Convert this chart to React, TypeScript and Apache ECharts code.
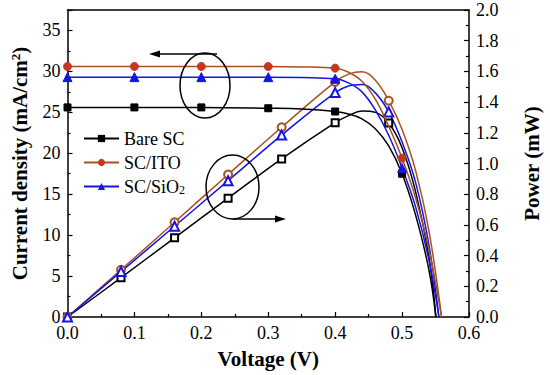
import React, { useEffect, useRef } from "react";
import * as echarts from "echarts";

// ---- Data ----
const SERIES_NAMES = ["Bare SC", "SC/ITO", "SC/SiO2"];

// Current density J (mA/cm^2) vs voltage
const J_V_BARE = [0, 0.1, 0.2, 0.3, 0.35, 0.4, 0.42, 0.44, 0.46, 0.48, 0.5, 0.52, 0.54, 0.5505];
const J_BARE = [25.6, 25.6, 25.6, 25.5, 25.4, 25.1, 24.8, 24.2, 23.0, 20.9, 17.5, 12.5, 5.8, 0];
const J_V_ITO = [0, 0.1, 0.2, 0.3, 0.35, 0.4, 0.42, 0.44, 0.46, 0.48, 0.5, 0.52, 0.54, 0.559];
const J_ITO = [30.6, 30.6, 30.6, 30.6, 30.55, 30.4, 29.9, 28.8, 26.6, 23.3, 19.4, 14.6, 8.3, 0];
const J_V_SIO2 = [0, 0.1, 0.2, 0.3, 0.35, 0.4, 0.42, 0.44, 0.46, 0.48, 0.5, 0.52, 0.54, 0.555];
const J_SIO2 = [29.3, 29.3, 29.3, 29.3, 29.25, 29.1, 28.6, 27.5, 25.3, 22.2, 18.2, 13.5, 7.0, 0];

// Power P (mW) vs voltage
const P_V_BARE = [0, 0.08, 0.16, 0.24, 0.32, 0.4, 0.42, 0.44, 0.46, 0.48, 0.5, 0.52, 0.54, 0.5505];
const P_BARE = [0, 0.256, 0.516, 0.774, 1.03, 1.266, 1.312, 1.342, 1.333, 1.264, 1.103, 0.82, 0.395, 0];
const P_V_ITO = [0, 0.08, 0.16, 0.24, 0.32, 0.4, 0.42, 0.44, 0.46, 0.48, 0.5, 0.52, 0.54, 0.559];
const P_ITO = [0, 0.308, 0.617, 0.928, 1.236, 1.532, 1.582, 1.597, 1.542, 1.409, 1.222, 0.957, 0.565, 0];
const P_V_SIO2 = [0, 0.08, 0.16, 0.24, 0.32, 0.4, 0.42, 0.44, 0.46, 0.48, 0.5, 0.52, 0.54, 0.555];
const P_SIO2 = [0, 0.296, 0.591, 0.888, 1.185, 1.462, 1.505, 1.515, 1.46, 1.336, 1.14, 0.88, 0.473, 0];

// Voltages where markers are drawn
const J_MARKER_V = [0, 0.1, 0.2, 0.3, 0.4, 0.5];
const P_MARKER_V = [0, 0.08, 0.16, 0.24, 0.32, 0.4, 0.48];

const X_TICKS = [0, 0.1, 0.2, 0.3, 0.4, 0.5, 0.6];

const FONT = "Liberation Serif";
const COLORS = ["#000000", "#a9501f", "#1414e8"];
const MARKER_FILL = ["#000000", "#c4391c", "#1414e8"];
const J_SYMBOLS = ["rect", "circle", "triangle"];
const P_SYMBOLS = ["emptyRect", "emptyCircle", "emptyTriangle"];
const SYMBOL_SIZES = [7, 8, 9];

function buildData(vs: number[], ys: number[], markers: number[]) {
  return vs.map((v, i) => {
    const isMarker = markers.some((m) => Math.abs(m - v) < 1e-6);
    return isMarker ? { value: [v, ys[i]] } : { value: [v, ys[i]], symbol: "none" };
  });
}

export default function App() {
  const ref = useRef<HTMLDivElement>(null);

  useEffect(() => {
    document.body.style.margin = "0";
    if (!ref.current) return;
    const chart = echarts.init(ref.current, undefined, { renderer: "svg" });

    const jSets = [
      [J_V_BARE, J_BARE],
      [J_V_ITO, J_ITO],
      [J_V_SIO2, J_SIO2],
    ];
    const pSets = [
      [P_V_BARE, P_BARE],
      [P_V_ITO, P_ITO],
      [P_V_SIO2, P_SIO2],
    ];

    const series: any[] = [];
    jSets.forEach(([vs, ys], i) => {
      series.push({
        name: SERIES_NAMES[i],
        type: "line",
        xAxisIndex: 0,
        yAxisIndex: 0,
        smooth: 0.4,
        data: buildData(vs, ys, J_MARKER_V),
        symbol: J_SYMBOLS[i],
        symbolSize: SYMBOL_SIZES[i],
        showAllSymbol: true,
        lineStyle: { color: COLORS[i], width: 1.5 },
        itemStyle: { color: MARKER_FILL[i], borderColor: MARKER_FILL[i] },
        z: 3,
      });
    });
    pSets.forEach(([vs, ys], i) => {
      series.push({
        name: SERIES_NAMES[i] + " power",
        type: "line",
        xAxisIndex: 0,
        yAxisIndex: 1,
        smooth: 0.4,
        data: buildData(vs, ys, P_MARKER_V),
        symbol: P_SYMBOLS[i],
        symbolSize: SYMBOL_SIZES[i],
        showAllSymbol: true,
        lineStyle: { color: COLORS[i], width: 1.5 },
        itemStyle: { color: COLORS[i] },
        z: 2,
      });
    });

    const axisLineStyle = { color: "#000", width: 1.5 };
    const labelStyle = { color: "#000", fontSize: 18, fontFamily: FONT };
    const nameStyle = { color: "#000", fontSize: 21, fontFamily: FONT, fontWeight: "bold" as const };

    chart.setOption({
      animation: false,
      backgroundColor: "#fff",
      textStyle: { fontFamily: FONT },
      grid: { left: 67.5, right: 68.5, top: 10, bottom: 58, containLabel: false },
      legend: {
        data: SERIES_NAMES,
        orient: "vertical",
        left: 78,
        top: 124,
        itemWidth: 35,
        itemHeight: 9,
        itemGap: 5,
        textStyle: {
          color: "#000",
          fontSize: 18,
          fontFamily: FONT,
          lineHeight: 19,
          rich: {
            sub: { fontSize: 12, fontFamily: FONT, lineHeight: 4, verticalAlign: "bottom" },
          },
        },
        formatter: (name: string) => (name === "SC/SiO2" ? "SC/SiO{sub|2}" : name),
      },
      xAxis: [
        {
          type: "value",
          min: X_TICKS[0],
          max: X_TICKS[X_TICKS.length - 1],
          interval: 0.1,
          name: "Voltage (V)",
          nameLocation: "middle",
          nameGap: 31,
          nameTextStyle: nameStyle,
          axisLine: { show: true, onZero: false, lineStyle: axisLineStyle },
          axisTick: { show: true, inside: true, length: 5, lineStyle: { color: "#000", width: 1.2 } },
          minorTick: { show: true, splitNumber: 2, length: 3, lineStyle: { color: "#000", width: 1.2 } },
          axisLabel: { ...labelStyle, margin: 7, formatter: (v: number) => v.toFixed(1) },
          splitLine: { show: false },
        },
        {
          type: "value",
          position: "top",
          min: 0,
          max: 0.6,
          axisLine: { show: true, onZero: false, lineStyle: axisLineStyle },
          axisTick: { show: false },
          axisLabel: { show: false },
          splitLine: { show: false },
        },
      ],
      yAxis: [
        {
          type: "value",
          min: 0,
          max: 37.5,
          interval: 5,
          position: "left",
          name: "Current density (mA/cm{sup|2})",
          nameLocation: "middle",
          nameGap: 37,
          nameRotate: 90,
          nameTextStyle: {
            ...nameStyle,
            lineHeight: 22,
            rich: {
              sup: { fontSize: 13, fontFamily: FONT, fontWeight: "bold", lineHeight: 6, verticalAlign: "top" },
            },
          },
          axisLine: { show: true, onZero: false, lineStyle: axisLineStyle },
          axisTick: { show: true, inside: true, length: 5, lineStyle: { color: "#000", width: 1.2 } },
          minorTick: { show: true, splitNumber: 2, length: 3, lineStyle: { color: "#000", width: 1.2 } },
          axisLabel: { ...labelStyle, margin: 7, showMaxLabel: false },
          splitLine: { show: false },
        },
        {
          type: "value",
          min: 0,
          max: 2,
          interval: 0.2,
          position: "right",
          name: "Power (mW)",
          nameLocation: "middle",
          nameGap: 52,
          nameRotate: 90,
          nameTextStyle: nameStyle,
          axisLine: { show: true, onZero: false, lineStyle: axisLineStyle },
          axisTick: { show: true, inside: true, length: 5, lineStyle: { color: "#000", width: 1.2 } },
          minorTick: { show: true, splitNumber: 2, length: 3, lineStyle: { color: "#000", width: 1.2 } },
          axisLabel: { ...labelStyle, margin: 7, formatter: (v: number) => v.toFixed(1) },
          splitLine: { show: false },
        },
      ],
      series,
      graphic: [
        {
          type: "ellipse",
          shape: { cx: 205, cy: 85.5, rx: 25, ry: 32.5 },
          style: { fill: "none", stroke: "#000", lineWidth: 1.5 },
          z: 10,
        },
        {
          type: "line",
          shape: { x1: 217, y1: 54, x2: 156, y2: 54 },
          style: { stroke: "#000", lineWidth: 1.5 },
          z: 10,
        },
        {
          type: "polygon",
          shape: { points: [[149, 54], [160, 50.5], [160, 57.5]] },
          style: { fill: "#000" },
          z: 10,
        },
        {
          type: "ellipse",
          shape: { cx: 232.5, cy: 187, rx: 26.5, ry: 32 },
          style: { fill: "none", stroke: "#000", lineWidth: 1.5 },
          z: 10,
        },
        {
          type: "line",
          shape: { x1: 233, y1: 219, x2: 279, y2: 219 },
          style: { stroke: "#000", lineWidth: 1.5 },
          z: 10,
        },
        {
          type: "polygon",
          shape: { points: [[286, 219], [275, 215.5], [275, 222.5]] },
          style: { fill: "#000" },
          z: 10,
        },
      ],
    });

    return () => {
      chart.dispose();
    };
  }, []);

  return <div ref={ref} style={{ width: 550, height: 375 }} />;
}
